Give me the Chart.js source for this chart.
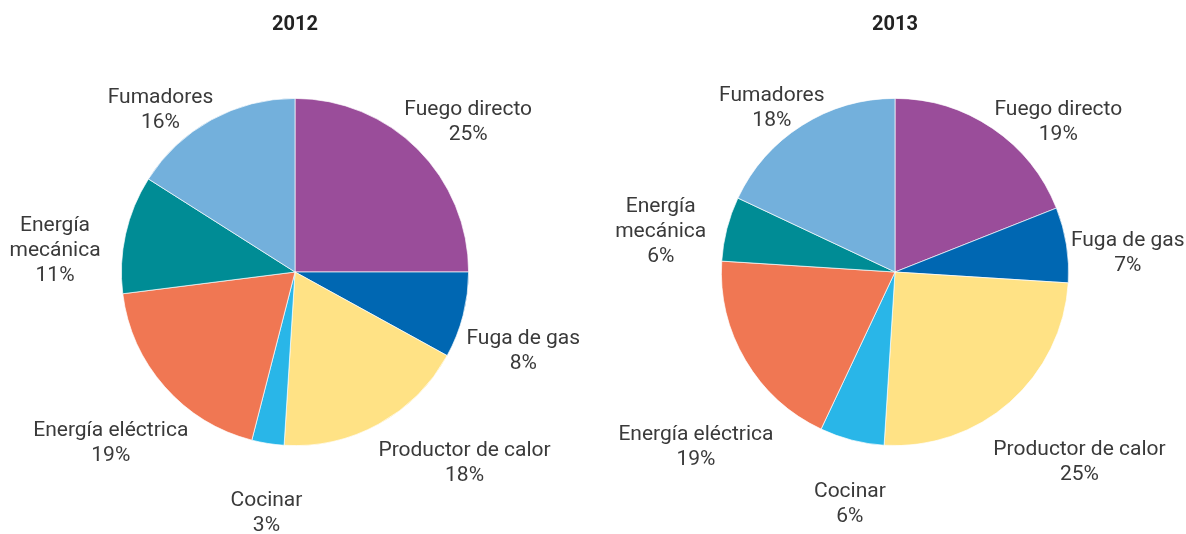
<!DOCTYPE html>
<html>
<head>
<meta charset="utf-8">
<script src="https://cdn.jsdelivr.net/npm/chart.js@4.4.1/dist/chart.umd.min.js"></script>
<style>
  html, body { margin: 0; padding: 0; background: #fff; }
  #wrap { display: flex; width: 1186px; height: 534px; }
  .cell { width: 593px; height: 534px; position: relative; }
</style>
</head>
<body>
<div id="wrap">
  <div class="cell"><canvas id="c2012" width="593" height="534"></canvas></div>
  <div class="cell"><canvas id="c2013" width="593" height="534"></canvas></div>
</div>
<script>
// ---- data ----
const years = ['2012', '2013'];
const categories = ['Fuego directo', 'Fuga de gas', 'Productor de calor', 'Cocinar', 'Energía eléctrica', 'Energía mecánica', 'Fumadores'];
const categoryLines = [['Fuego directo'], ['Fuga de gas'], ['Productor de calor'], ['Cocinar'], ['Energía eléctrica'], ['Energía', 'mecánica'], ['Fumadores']];
const values2012 = [25, 8, 18, 3, 19, 11, 16];
const values2013 = [19, 7, 25, 6, 19, 6, 18];

// ---- styles / layout ----
const sliceColors = ['#9A4D9A', '#0067B2', '#FFE285', '#29B6E8', '#F07753', '#008C95', '#73B0DC'];
const labelFont = '21px Roboto';
const labelColor = '#3a3a3a';
const labelLineHeight = 25;
const labelGap = 60;
const labelShiftY = 3;
// per-label nudges (dx, dy) relative to the mid-angle anchor
const nudges2012 = [[8, 12], [2, 18], [57, -16], [8, 8], [-9, 14], [-12, 27], [-22, 40]];
const nudges2013 = [[32, 40], [2, 15], [30, 12], [13, 3], [2, 53], [-8, 15], [2, 30]];

const outsideLabels = {
  id: 'outsideLabels',
  afterDatasetsDraw(chart, args, opts) {
    const ctx = chart.ctx;
    const meta = chart.getDatasetMeta(0);
    const vals = chart.data.datasets[0].data;
    ctx.save();
    ctx.font = labelFont;
    ctx.fillStyle = labelColor;
    ctx.textAlign = 'center';
    ctx.textBaseline = 'middle';
    meta.data.forEach((arc, i) => {
      const mid = (arc.startAngle + arc.endAngle) / 2;
      const R = arc.outerRadius + labelGap;
      const nx = opts.nudges[i][0], ny = opts.nudges[i][1];
      const cx = arc.x + Math.cos(mid) * R + nx;
      const cy = arc.y + Math.sin(mid) * R + ny + labelShiftY;
      const lines = categoryLines[i].concat([vals[i] + '%']);
      const top = cy - (lines.length - 1) * labelLineHeight / 2;
      lines.forEach((t, k) => ctx.fillText(t, cx, top + k * labelLineHeight));
    });
    ctx.restore();
  }
};

function makePie(id, year, values, nudges, padL, padR) {
  return new Chart(document.getElementById(id), {
    type: 'pie',
    data: {
      labels: categories,
      datasets: [{
        data: values,
        backgroundColor: sliceColors,
        borderColor: 'rgba(255,255,255,0.85)',
        borderWidth: 0.8
      }]
    },
    options: {
      responsive: false,
      animation: false,
      layout: { padding: { left: padL, right: padR, top: 0, bottom: 88 } },
      plugins: {
        legend: { display: false },
        tooltip: { enabled: false },
        title: {
          display: true,
          text: year,
          color: '#222',
          font: { family: 'Roboto', size: 20, weight: 'bold' },
          padding: { top: 13, bottom: 61 }
        },
        outsideLabels: { nudges: nudges }
      }
    },
    plugins: [outsideLabels]
  });
}

makePie('c2012', years[0], values2012, nudges2012, 100, 103);
makePie('c2013', years[1], values2013, nudges2013, 120, 109);
</script>
</body>
</html>
